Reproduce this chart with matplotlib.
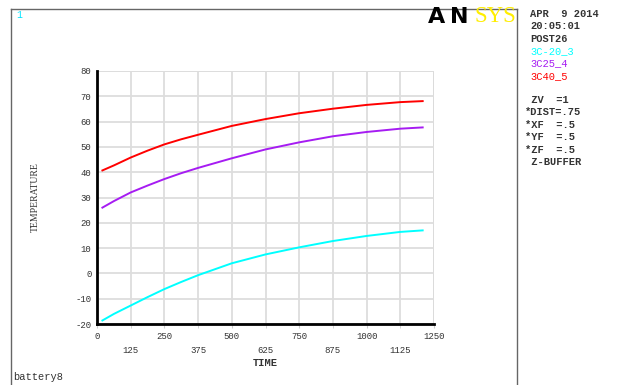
import matplotlib
matplotlib.use("Agg")
import matplotlib.pyplot as plt
from matplotlib.lines import Line2D
from matplotlib.ticker import FixedLocator

# ---- data ----
time = [20, 63, 125, 187, 250, 312, 375, 500, 625, 750, 875, 1000, 1125, 1208]
t_c40 = [40.7, 42.7, 45.8, 48.5, 51.0, 53.0, 54.8, 58.3, 61.0, 63.3, 65.1, 66.6, 67.7, 68.1]
t_c25 = [26.0, 28.6, 32.0, 34.7, 37.3, 39.6, 41.7, 45.5, 49.0, 51.8, 54.2, 55.9, 57.2, 57.7]
t_cm20 = [-18.6, -16.0, -12.7, -9.4, -6.2, -3.4, -0.7, 4.0, 7.5, 10.3, 12.8, 14.8, 16.4, 17.0]
series_names = ["3C-20_3", "3C25_4", "3C40_5"]
series_colors = ["#00ffff", "#a61cf2", "#ff0000"]
x_major = [0, 250, 500, 750, 1000, 1250]
x_minor = [125, 375, 625, 875, 1125]
y_ticks = [-20, -10, 0, 10, 20, 30, 40, 50, 60, 70, 80]
info_top = ["APR  9 2014", "20:05:01", "POST26"]
info_bottom = [" ZV  =1", "*DIST=.75", "*XF  =.5", "*YF  =.5", "*ZF  =.5", " Z-BUFFER"]

W, H = 629, 385
fig = plt.figure(figsize=(W / 100, H / 100), dpi=100)
fig.patch.set_facecolor("white")

def fx(px):
    return px / W

def fy(py):
    return 1 - py / H

# outer frame
fig.add_artist(Line2D([fx(11), fx(11)], [fy(9), fy(385)], color="#666666", lw=1.0))
fig.add_artist(Line2D([fx(11), fx(517)], [fy(9), fy(9)], color="#666666", lw=1.0))
fig.add_artist(Line2D([fx(517), fx(517)], [fy(9), fy(385)], color="#666666", lw=1.0))

ax = fig.add_axes([fx(97), fy(324), fx(434) - fx(97), fy(71) - fy(324)])
ax.set_xlim(0, 1250)
ax.set_ylim(-20, 80)

for vals, name, col in zip([t_cm20, t_c25, t_c40], series_names, series_colors):
    ax.plot(time, vals, color=col, lw=1.4, label=name, zorder=3,
            solid_joinstyle="round")

mono = "Liberation Mono"
ax.xaxis.set_major_locator(FixedLocator(x_major))
ax.xaxis.set_minor_locator(FixedLocator(x_minor))
ax.set_xticklabels([str(v) for v in x_major], fontsize=6.5, family=mono, color="#333333")
ax.set_xticklabels([str(v) for v in x_minor], minor=True, fontsize=6.5, family=mono, color="#333333")
ax.tick_params(axis="x", which="major", length=3, color="#cccccc", pad=3)
ax.tick_params(axis="x", which="minor", length=3, color="#cccccc", pad=13)
ax.set_yticks(y_ticks)
ax.set_yticklabels([str(v) for v in y_ticks], fontsize=6.5, family=mono, color="#333333")
ax.tick_params(axis="y", length=0, pad=4)

ax.grid(True, which="both", color="#dddddd", lw=1.3)
ax.set_axisbelow(True)
for s in ["top", "right"]:
    ax.spines[s].set_visible(False)
for s in ["left", "bottom"]:
    ax.spines[s].set_color("black")
    ax.spines[s].set_linewidth(2)
ax.axvline(1250, color="#cccccc", lw=1.3, zorder=0)
ax.axhline(80, color="#dddddd", lw=1.3, zorder=0)

ax.set_xlabel("TIME", fontsize=7.5, family=mono, fontweight="bold", color="#333333", labelpad=2)
fig.text(fx(35), fy(197), "TEMPERATURE", rotation=90, ha="center", va="center",
         fontsize=7, family="Liberation Serif", color="#333333")

# labels in frame
fig.text(fx(16), fy(15), "1", color="#00e5ff", fontsize=7, family=mono, va="center")
fig.text(fx(13), fy(377), "battery8", color="#333333", fontsize=7.5, family=mono, va="center")

# ANSYS logo
fig.text(fx(428), fy(17), "A", color="black", fontsize=16, fontweight="bold",
         family="DejaVu Sans", va="center", ha="left")
fig.text(fx(450), fy(17), "N", color="black", fontsize=16, fontweight="bold",
         family="DejaVu Sans", va="center", ha="left")
fig.text(fx(475), fy(17), "SYS", color="#ffee00", fontsize=16.5,
         family="Liberation Serif", va="center", ha="left")

# info block
y0 = 14
step = 12.4
for i, t in enumerate(info_top):
    fig.text(fx(530), fy(y0 + i * step), t, fontsize=7.5, family=mono, fontweight="bold",
             color="#333333", va="center")
for i, (name, col) in enumerate(zip(series_names, series_colors)):
    fig.text(fx(530), fy(y0 + (3 + i) * step), name, fontsize=7.5, family=mono,
             color=col, va="center")
for i, t in enumerate(info_bottom):
    fig.text(fx(525), fy(100 + i * step), t, fontsize=7.5, family=mono, fontweight="bold",
             color="#333333", va="center")

fig.savefig("out.png", dpi=100)
